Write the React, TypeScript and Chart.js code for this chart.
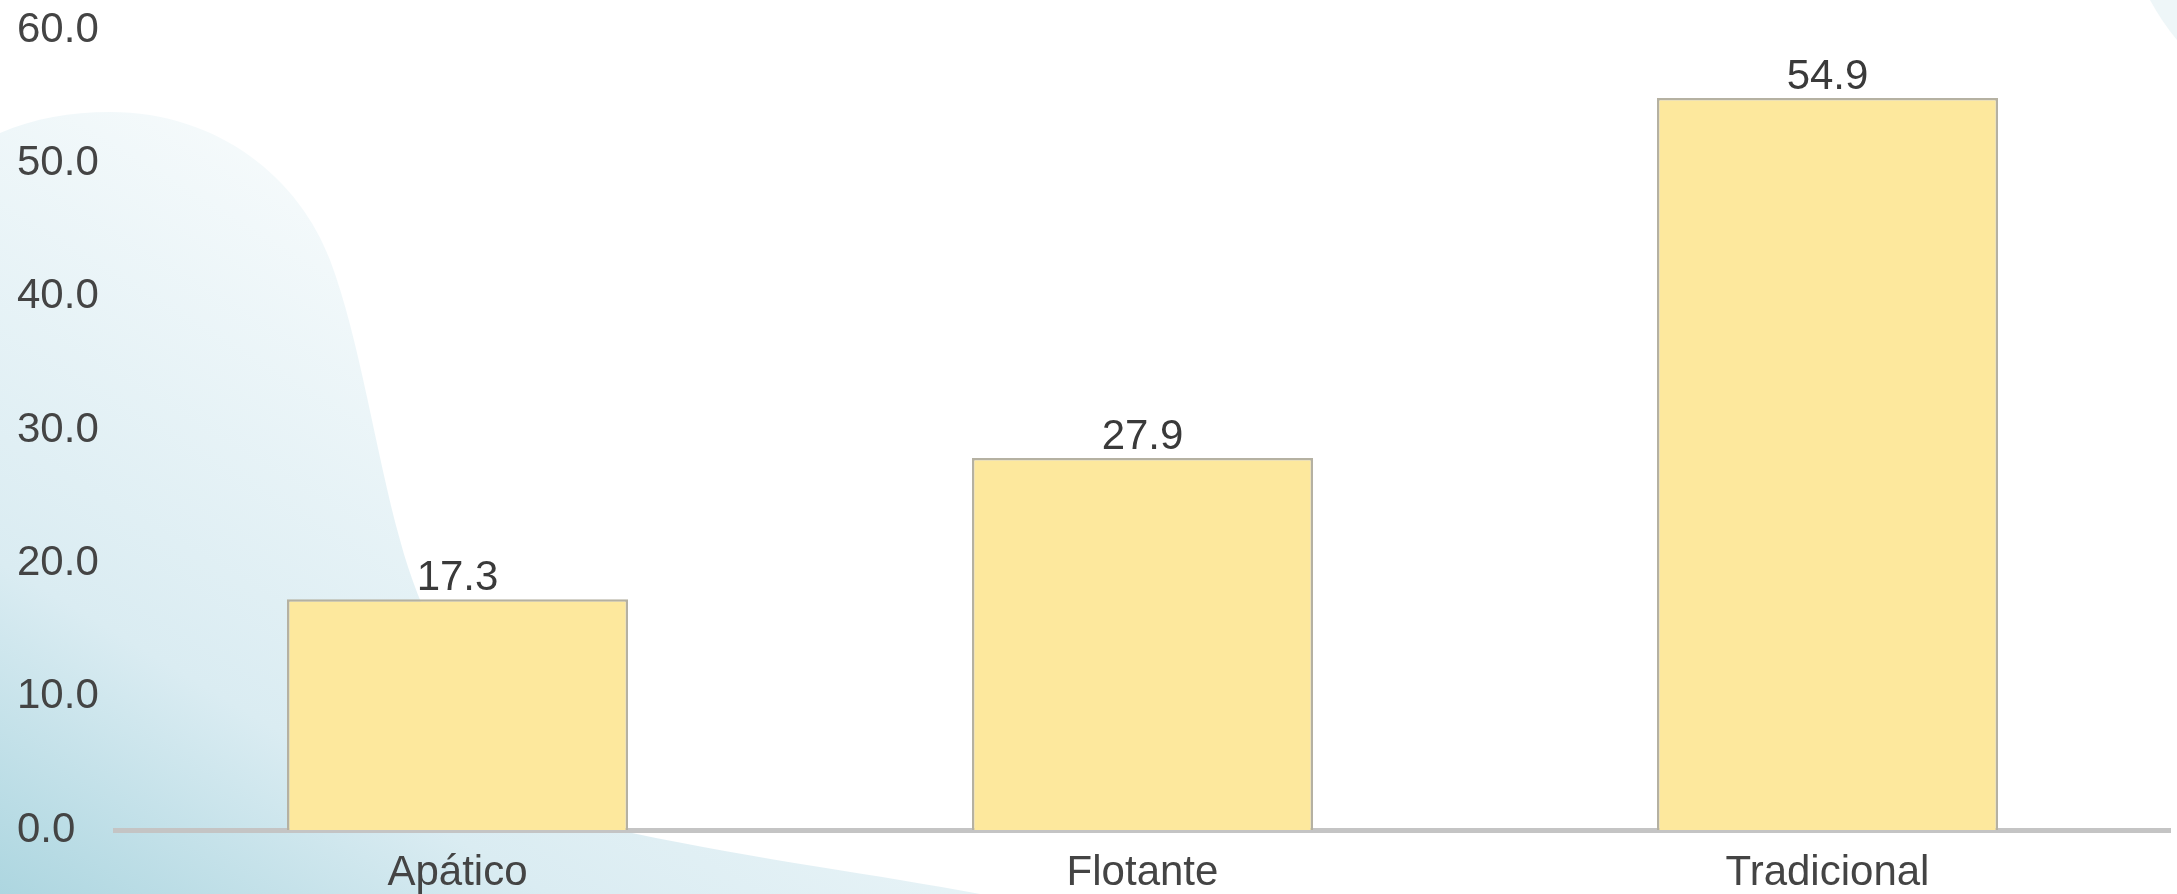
import React, { useEffect, useRef } from "react";
import { Chart, registerables } from "chart.js";

Chart.register(...registerables);

const categories = ["Apático", "Flotante", "Tradicional"];
const values = [17.3, 27.9, 54.9];
const yTicks = [0, 10, 20, 30, 40, 50, 60];

const FONT = "'Liberation Sans', Arial, sans-serif";
const TEXT_COLOR = "#444444";

const backgroundPlugin = {
  id: "bgDecor",
  beforeDraw(chart: any) {
    const { ctx, width, height } = chart;
    ctx.save();
    ctx.fillStyle = "#ffffff";
    ctx.fillRect(0, 0, width, height);
    const g = ctx.createLinearGradient(0, 894, 420, 200);
    g.addColorStop(0, "#add6e0");
    g.addColorStop(0.35, "#daecf2");
    g.addColorStop(1, "#f7fbfc");
    ctx.fillStyle = g;
    ctx.beginPath();
    ctx.moveTo(0, 133);
    ctx.bezierCurveTo(35, 118, 70, 112, 110, 112);
    ctx.bezierCurveTo(220, 112, 300, 180, 330, 260);
    ctx.bezierCurveTo(360, 340, 375, 450, 400, 540);
    ctx.bezierCurveTo(440, 690, 540, 790, 632, 833);
    ctx.bezierCurveTo(760, 860, 880, 875, 980, 894);
    ctx.lineTo(0, 894);
    ctx.closePath();
    ctx.fill();
    ctx.fillStyle = "#eef6f8";
    ctx.beginPath();
    ctx.moveTo(2150, 0);
    ctx.quadraticCurveTo(2162, 22, 2177, 40);
    ctx.lineTo(2177, 0);
    ctx.closePath();
    ctx.fill();
    ctx.restore();
  },
};

const valueLabelPlugin = {
  id: "valueLabels",
  afterDatasetsDraw(chart: any) {
    const { ctx } = chart;
    const meta = chart.getDatasetMeta(0);
    ctx.save();
    ctx.font = `42px ${FONT}`;
    ctx.fillStyle = "#3a3a3a";
    ctx.textAlign = "center";
    ctx.textBaseline = "alphabetic";
    meta.data.forEach((bar: any, i: number) => {
      const v = chart.data.datasets[0].data[i] as number;
      ctx.fillText(v.toFixed(1), bar.x, bar.y - 9);
    });
    ctx.restore();
  },
};

export default function App() {
  const ref = useRef<HTMLCanvasElement | null>(null);

  useEffect(() => {
    document.body.style.margin = "0";
    document.body.style.overflow = "hidden";
    if (!ref.current) return;
    const chart = new Chart(ref.current, {
      type: "bar",
      data: {
        labels: categories,
        datasets: [
          {
            data: values,
            backgroundColor: "#fde89d",
            borderColor: "#b5b1a2",
            borderWidth: 2.5,
            categoryPercentage: 1,
            barPercentage: 0.498,
          },
        ],
      },
      options: {
        responsive: false,
        animation: false,
        layout: { padding: { left: 17, right: 7, top: 30, bottom: 0 } },
        plugins: {
          legend: { display: false },
          tooltip: { enabled: false },
        },
        scales: {
          x: {
            grid: { display: false, drawTicks: false },
            border: { display: true, color: "#c4c4c4", width: 5 },
            ticks: {
              color: TEXT_COLOR,
              font: { family: FONT, size: 42, lineHeight: 1.2 },
              padding: 18,
              maxRotation: 0,
            },
            afterFit: (scale: any) => {
              scale.height = 64;
            },
          },
          y: {
            min: yTicks[0],
            max: yTicks[yTicks.length - 1],
            afterBuildTicks: (scale: any) => {
              scale.ticks = yTicks.map((v) => ({ value: v }));
            },
            grid: { display: false, drawTicks: false },
            border: { display: false },
            ticks: {
              color: TEXT_COLOR,
              font: { family: FONT, size: 42 },
              crossAlign: "far",
              padding: 0,
              callback: (v: any) => Number(v).toFixed(1),
            },
            afterFit: (scale: any) => {
              scale.width = 98;
            },
          },
        },
      },
      plugins: [backgroundPlugin, valueLabelPlugin],
    });
    return () => chart.destroy();
  }, []);

  return (
    <canvas
      ref={ref}
      width={2177}
      height={894}
      style={{ display: "block", width: "2177px", height: "894px" }}
    />
  );
}
